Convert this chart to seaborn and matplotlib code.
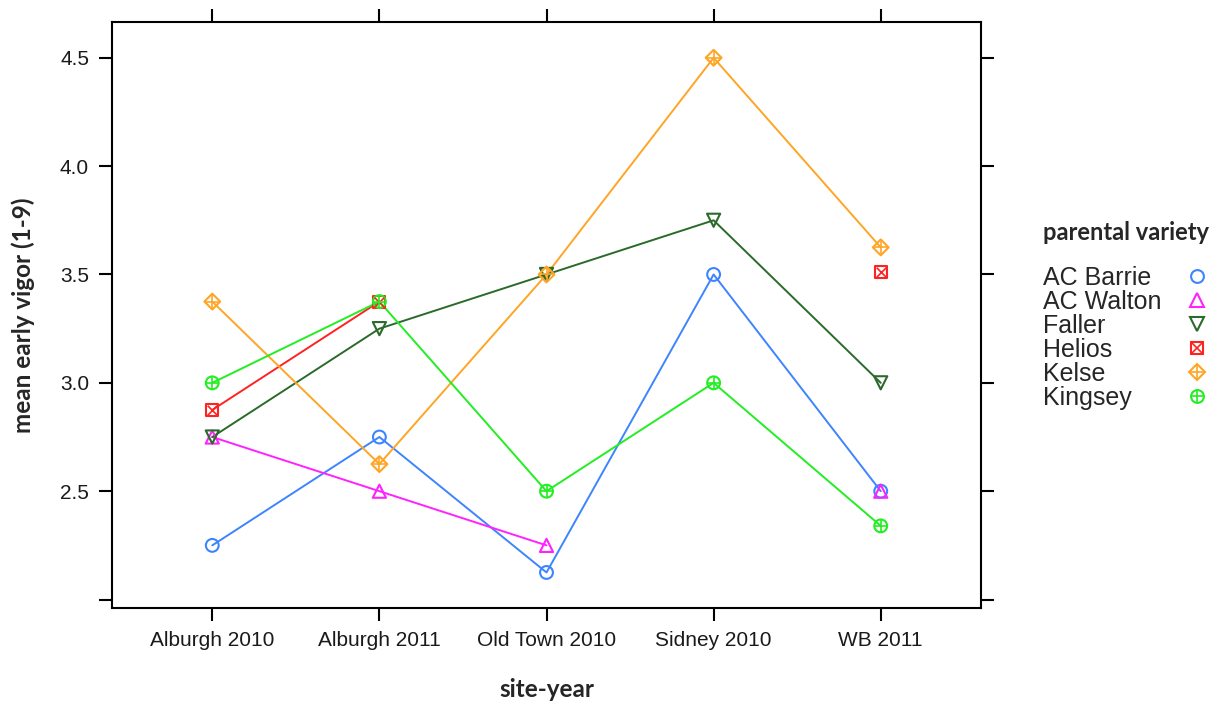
import numpy as np
import pandas as pd
import seaborn as sns
from matplotlib import pyplot as plt
from matplotlib.lines import Line2D
from matplotlib.legend_handler import HandlerTuple

# data
sites = ["Alburgh 2010", "Alburgh 2011", "Old Town 2010", "Sidney 2010", "WB 2011"]
varieties = ["AC Barrie", "AC Walton", "Faller", "Helios", "Kelse", "Kingsey"]
ac_barrie = [2.25, 2.75, 2.125, 3.5, 2.5]
ac_walton = [2.75, 2.5, 2.25, np.nan, 2.5]
faller = [2.75, 3.25, 3.5, 3.75, 3.0]
helios = [2.875, 3.375, np.nan, np.nan, 3.51]
kelse = [3.375, 2.625, 3.5, 4.5, 3.625]
kingsey = [3.0, 3.375, 2.5, 3.0, 2.34]
y_ticks = [2.0, 2.5, 3.0, 3.5, 4.0, 4.5]
y_ticklabels = ["", "2.5", "3.0", "3.5", "4.0", "4.5"]

colors = {"AC Barrie": "#3d84ff", "AC Walton": "#ff22ff", "Faller": "#2a6a2a",
          "Helios": "#ff2222", "Kelse": "#ffa526", "Kingsey": "#22ee22"}
# base marker + optional overlay (lattice pch 1, 2, 6, 7, 9, 10)
markers = {"AC Barrie": ("o", None), "AC Walton": ("^", None), "Faller": ("v", None),
           "Helios": ("s", "x"), "Kelse": ("D", "+"), "Kingsey": ("o", "+")}
base_size = {"o": 85, "^": 90, "v": 90, "s": 75, "D": 65}
over_size = {"x": 48, "+": 100}

values = [ac_barrie, ac_walton, faller, helios, kelse, kingsey]
frames = []
for name, vals in zip(varieties, values):
    d = pd.DataFrame({"site": sites, "vigor": vals})
    d["variety"] = name
    # new segment after each missing value so lines break at gaps
    d["segment"] = d["vigor"].isna().cumsum()
    frames.append(d)
df = pd.concat(frames, ignore_index=True)
df["pos"] = df["site"].map({s: i for i, s in enumerate(sites)})
df = df.dropna(subset=["vigor"])

sns.set_theme(style="white")
plt.rcParams["font.family"] = ["Liberation Sans", "DejaVu Sans"]

fig = plt.figure(figsize=(12.21, 7.02), dpi=100)
ax = fig.add_axes([112 / 1221, 1 - 608 / 702, (981 - 112) / 1221, (608 - 22) / 702])

sns.lineplot(data=df, x="pos", y="vigor", hue="variety", units="segment",
             estimator=None, palette=colors, hue_order=varieties,
             linewidth=1.4, legend=False, ax=ax)

handles = []
for name in varieties:
    sub = df[df["variety"] == name]
    base, over = markers[name]
    sns.scatterplot(x=sub["pos"], y=sub["vigor"], marker=base, s=base_size[base],
                    color=colors[name], facecolor="none", edgecolor=colors[name],
                    linewidth=1.5, zorder=3, ax=ax)
    h = [Line2D([], [], ls="none", marker=base, ms=np.sqrt(base_size[base]),
                mfc="none", mec=colors[name], mew=1.5)]
    if over:
        sns.scatterplot(x=sub["pos"], y=sub["vigor"], marker=over, s=over_size[over],
                        color=colors[name], linewidth=1.2, zorder=4, ax=ax)
        h.append(Line2D([], [], ls="none", marker=over, ms=np.sqrt(over_size[over]),
                        mec=colors[name], mew=1.2))
    handles.append(tuple(h))

ax.set_xlim(-0.6, 4.6)
ax.set_ylim(1.961, 4.665)
ax.set_xticks(range(len(sites)))
ax.set_xticklabels(sites)
ax.set_yticks(y_ticks)
ax.set_yticklabels(y_ticklabels)
ax.tick_params(axis="both", which="both", direction="out", length=9.5, width=1.5,
               color="black", labelsize=15, labelcolor="#1a1a1a",
               top=True, right=True, bottom=True, left=True, pad=7)
for sp in ax.spines.values():
    sp.set_color("black")
    sp.set_linewidth(1.5)

ax.set_xlabel("site-year", fontsize=17.5, fontweight="bold", family="Lato", labelpad=20)
ax.set_ylabel("mean early vigor (1-9)", fontsize=17.5, fontweight="bold", family="Lato",
              labelpad=18)

leg = fig.legend(handles, varieties, handler_map={tuple: HandlerTuple(ndivide=1)},
                 loc="upper left", bbox_to_anchor=(1043 / 1221, 1 - 221 / 702),
                 frameon=False, markerfirst=False, fontsize=18,
                 title="parental variety", alignment="left",
                 handlelength=1.0, handletextpad=1.4, labelspacing=0.0,
                 borderaxespad=0, borderpad=0)
leg.get_title().set_fontweight("bold")
leg.get_title().set_family("Lato")
leg.get_title().set_fontsize(17)
leg._legend_box.sep = 16
# labels left, markers in one column at the right
for col in leg._legend_handle_box.get_children():
    col.align = "left"
    for row in col.get_children():
        row.mode = "expand"
        row.width = 166

fig.savefig("out.png", dpi=100)
